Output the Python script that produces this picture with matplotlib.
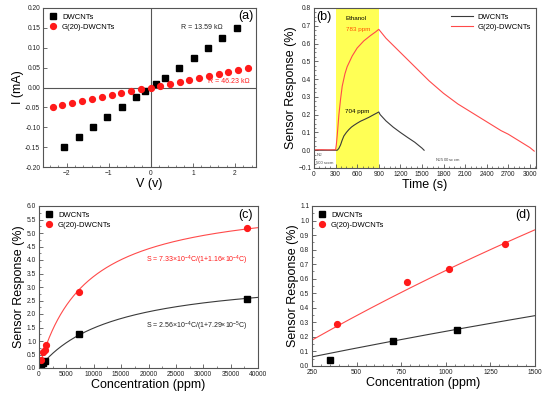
import numpy as np
import matplotlib.pyplot as plt
from matplotlib.ticker import MultipleLocator, AutoMinorLocator

plt.rcParams['font.family'] = ['Liberation Sans', 'DejaVu Sans']
plt.rcParams['mathtext.fontset'] = 'custom'
plt.rcParams['mathtext.rm'] = 'Liberation Sans'

# ---- (a) I-V data
v_dw = [-2.05, -1.71, -1.37, -1.03, -0.69, -0.35, -0.14, 0.13, 0.34, 0.68, 1.02, 1.36, 1.70, 2.04]
i_dw = [-0.15, -0.125, -0.10, -0.075, -0.05, -0.025, -0.01, 0.01, 0.025, 0.05, 0.075, 0.10, 0.125, 0.15]
v_g = [-2.33, -2.10, -1.86, -1.63, -1.40, -1.17, -0.93, -0.70, -0.47, -0.23, 0.0,
       0.23, 0.46, 0.69, 0.92, 1.15, 1.38, 1.61, 1.84, 2.07, 2.30]
i_g = [-0.05, -0.045, -0.04, -0.035, -0.03, -0.025, -0.02, -0.015, -0.01, -0.005, 0.0,
       0.005, 0.01, 0.015, 0.02, 0.025, 0.03, 0.035, 0.04, 0.045, 0.05]

# ---- (b) transient response
t_dw = [0, 100, 200, 300, 323, 345, 369, 390, 415, 450, 484, 520, 554, 600, 646, 700, 762, 830, 900,
        920, 1000, 1100, 1200, 1300, 1400, 1500, 1530]
s_dw = [0.0, 0.0, 0.0, 0.0, 0.0, 0.01, 0.03, 0.055, 0.08, 0.10, 0.116, 0.13, 0.14, 0.152, 0.163, 0.173,
        0.185, 0.20, 0.215, 0.20, 0.165, 0.13, 0.10, 0.072, 0.045, 0.012, 0.0]
t_g = [0, 100, 200, 300, 310, 322, 334, 346, 370, 392, 430, 461, 531, 600, 692, 785, 854, 900,
       1000, 1100, 1200, 1300, 1400, 1500, 1600, 1700, 1800, 1900, 2000, 2100, 2200, 2300,
       2400, 2500, 2600, 2700, 2800, 2900, 3000, 3060]
s_g = [0.002, 0.003, 0.002, 0.003, 0.03, 0.08, 0.14, 0.20, 0.29, 0.36, 0.43, 0.47, 0.53, 0.575, 0.615,
       0.645, 0.665, 0.68,
       0.63, 0.59, 0.55, 0.51, 0.47, 0.43, 0.39, 0.355, 0.32, 0.29, 0.26, 0.235, 0.21, 0.185,
       0.16, 0.135, 0.11, 0.09, 0.065, 0.04, 0.015, -0.005]

# ---- (c)/(d) response vs concentration
c_dw = [350, 704, 1060, 7300, 38000]
r_dw = [0.04, 0.17, 0.245, 1.25, 2.57]
c_g = [390, 783, 1020, 1330, 7300, 38000]
r_g = [0.29, 0.58, 0.67, 0.84, 2.80, 5.17]
fit_dw = (2.56e-4, 7.29e-5)   # S = aC/(1+bC)
fit_g = (7.33e-4, 1.16e-4)

RED = '#ff1a1a'
LRED = '#ff4a4a'
GREY = '#3a3a3a'
TICK_FS = 4.8
LAB_FS = 9
LEG_FS = 5.5
SQ = 3.8
CI = 4.2


def style(ax):
    for s in ax.spines.values():
        s.set_color('#555555')
        s.set_linewidth(0.8)
    ax.tick_params(which='both', direction='in', labelsize=TICK_FS, color='#555555',
                   labelcolor='#222222', pad=2)
    ax.tick_params(which='major', length=3, width=0.6)
    ax.tick_params(which='minor', length=1.6, width=0.5)


def langmuir(p, c):
    return p[0] * c / (1 + p[1] * c)


fig = plt.figure(figsize=(5.5, 4.03), dpi=100)

# (a)
ax = fig.add_axes([43 / 550, 1 - 167 / 403, 213 / 550, 159 / 403])
style(ax)
ax.axhline(0, color='#555555', lw=0.8, zorder=1)
ax.axvline(0, color='#555555', lw=0.8, zorder=1)
ax.plot(v_dw, i_dw, 's', color='black', ms=SQ, label='DWCNTs', zorder=3)
ax.plot(v_g, i_g, 'o', color=RED, ms=CI, label='G(20)-DWCNTs', zorder=3)
ax.set_xlim(-2.56, 2.5)
ax.set_ylim(-0.20, 0.20)
ax.xaxis.set_major_locator(MultipleLocator(1))
ax.xaxis.set_minor_locator(MultipleLocator(0.2))
ax.yaxis.set_major_locator(MultipleLocator(0.05))
ax.yaxis.set_major_formatter(plt.FormatStrFormatter('%.2f'))
ax.set_xlabel('V (v)', fontsize=LAB_FS, labelpad=1)
ax.set_ylabel('I (mA)', fontsize=LAB_FS, labelpad=1)
ax.text(0.73, 0.151, 'R = 13.59 k\u03a9', fontsize=5, va='center', color='#222222')
ax.text(1.37, 0.015, 'R = 46.23 k\u03a9', fontsize=5, va='center', color=RED)
ax.text(2.43, 0.18, '(a)', fontsize=9, ha='right', va='center')
ax.legend(loc='upper left', frameon=False, fontsize=LEG_FS, handletextpad=0.6,
          borderaxespad=0.3, labelspacing=0.4, handlelength=1.2)

# (b)
ax = fig.add_axes([314 / 550, 1 - 168 / 403, 222 / 550, 160 / 403])
style(ax)
ax.axvspan(300, 900, color='#ffff55', lw=0, zorder=0)
ax.plot(t_dw, s_dw, '-', color=GREY, lw=0.8, label='DWCNTs')
ax.plot(t_g, s_g, '-', color=LRED, lw=0.8, label='G(20)-DWCNTs')
ax.set_xlim(0, 3085)
ax.set_ylim(-0.1, 0.8)
ax.xaxis.set_major_locator(MultipleLocator(300))
ax.xaxis.set_minor_locator(AutoMinorLocator(4))
ax.yaxis.set_major_locator(MultipleLocator(0.1))
ax.yaxis.set_minor_locator(AutoMinorLocator(4))
ax.set_xlabel('Time (s)', fontsize=LAB_FS, labelpad=1)
ax.set_ylabel('Sensor Response (%)', fontsize=LAB_FS, labelpad=1)
ax.text(35, 0.75, '(b)', fontsize=9, va='center')
ax.text(440, 0.74, 'Ethanol', fontsize=4.5, va='center')
ax.text(440, 0.678, '783 ppm', fontsize=4.5, va='center', color='#ff5000')
ax.text(425, 0.215, '704 ppm', fontsize=4.5, va='center')
ax.text(30, -0.03, 'N$_2$', fontsize=3, va='center', color='#444444')
ax.text(30, -0.07, '500 sccm', fontsize=3, va='center', color='#444444')
ax.text(1680, -0.058, 'N$_2$ 500 sccm', fontsize=3, va='center', color='#444444')
ax.legend(loc='upper right', frameon=False, fontsize=LEG_FS, handletextpad=0.6,
          borderaxespad=0.3, labelspacing=0.4, handlelength=2.8)

# (c)
ax = fig.add_axes([39 / 550, 1 - 368 / 403, 219 / 550, 162 / 403])
style(ax)
cc = np.linspace(0, 40000, 400)
ax.plot(cc, langmuir(fit_dw, cc), '-', color=GREY, lw=0.8)
ax.plot(cc, langmuir(fit_g, cc), '-', color=LRED, lw=0.8)
ax.plot(c_dw, r_dw, 's', color='black', ms=SQ, label='DWCNTs')
ax.plot(c_g, r_g, 'o', color=RED, ms=CI, label='G(20)-DWCNTs')
ax.set_xlim(0, 40000)
ax.set_ylim(0, 6.0)
ax.xaxis.set_major_locator(MultipleLocator(5000))
ax.xaxis.set_minor_locator(AutoMinorLocator(2))
ax.yaxis.set_major_locator(MultipleLocator(0.5))
ax.yaxis.set_minor_locator(AutoMinorLocator(2))
ax.yaxis.set_major_formatter(plt.FormatStrFormatter('%.1f'))
ax.set_xlabel('Concentration (ppm)', fontsize=LAB_FS, labelpad=1)
ax.set_ylabel('Sensor Response (%)', fontsize=LAB_FS, labelpad=1)
ax.text(19600, 3.99, r'S = 7.33$\times$10$^{-4}$C/(1+1.16$\times$10$^{-4}$C)',
        fontsize=5, va='center', color=RED)
ax.text(19600, 1.56, r'S = 2.56$\times$10$^{-4}$C/(1+7.29$\times$10$^{-5}$C)',
        fontsize=5, va='center', color='#222222')
ax.text(39000, 5.65, '(c)', fontsize=9, ha='right', va='center')
ax.legend(loc='upper left', frameon=False, fontsize=LEG_FS, handletextpad=0.6,
          borderaxespad=0.3, labelspacing=0.4, handlelength=1.2)

# (d)
ax = fig.add_axes([312 / 550, 1 - 366 / 403, 223 / 550, 160 / 403])
style(ax)
cd = np.linspace(250, 1500, 200)
ax.plot(cd, langmuir(fit_dw, cd), '-', color=GREY, lw=0.8)
ax.plot(cd, langmuir(fit_g, cd), '-', color=LRED, lw=0.8)
ax.plot(c_dw[:3], r_dw[:3], 's', color='black', ms=SQ, label='DWCNTs')
ax.plot(c_g[:4], r_g[:4], 'o', color=RED, ms=CI, label='G(20)-DWCNTs')
ax.set_xlim(250, 1500)
ax.set_ylim(0, 1.1)
ax.xaxis.set_major_locator(MultipleLocator(250))
ax.xaxis.set_minor_locator(AutoMinorLocator(5))
ax.yaxis.set_major_locator(MultipleLocator(0.1))
ax.yaxis.set_minor_locator(AutoMinorLocator(2))
ax.yaxis.set_major_formatter(plt.FormatStrFormatter('%.1f'))
ax.set_xlabel('Concentration (ppm)', fontsize=LAB_FS, labelpad=1)
ax.set_ylabel('Sensor Response (%)', fontsize=LAB_FS, labelpad=1)
ax.text(1475, 1.037, '(d)', fontsize=9, ha='right', va='center')
ax.legend(loc='upper left', frameon=False, fontsize=LEG_FS, handletextpad=0.6,
          borderaxespad=0.3, labelspacing=0.4, handlelength=1.2)

fig.savefig('out.png', dpi=100)
